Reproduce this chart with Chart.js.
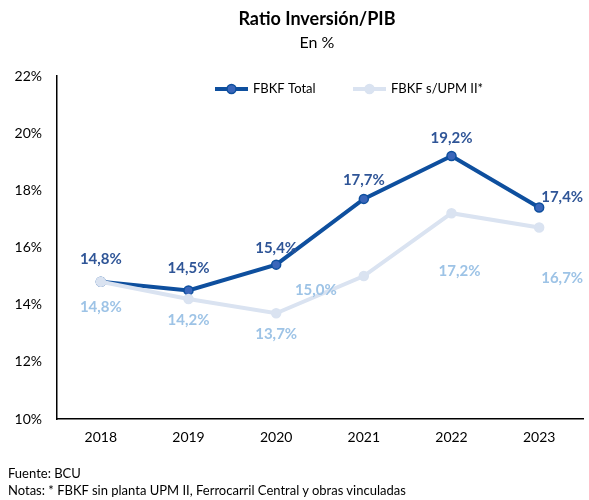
<!DOCTYPE html>
<html><head><meta charset="utf-8">
<script src="https://cdn.jsdelivr.net/npm/chart.js@4"></script>
<style>
body{margin:0;background:#fff;font-family:Lato,"Liberation Sans",sans-serif;}
#wrap{position:relative;width:589px;height:500px;}
canvas{position:absolute;left:0;top:0;}
.t{position:absolute;left:117px;width:400px;text-align:center;color:#000;}
.f{position:absolute;left:8px;font-size:13px;color:#000;}
</style></head>
<body><div id="wrap">
<canvas id="c" width="589" height="500"></canvas>
<div class="t" style="top:7px;font-weight:bold;font-size:18px;">Ratio Inversión/PIB</div>
<div class="t" style="top:32px;font-size:16px;">En %</div>
<div class="f" style="top:465px;">Fuente: BCU</div>
<div class="f" style="top:482px;">Notas: * FBKF sin planta UPM II, Ferrocarril Central y obras vinculadas</div>
</div>
<script>
const categories = ["2018","2019","2020","2021","2022","2023"];
const fbkfTotal = [14.8,14.5,15.4,17.7,19.2,17.4];
const fbkfSinUPM = [14.8,14.2,13.7,15.0,17.2,16.7];
const seriesNames = ["FBKF Total","FBKF s/UPM II*"];
const yTicks = [10,12,14,16,18,20,22];

const DARK="#0E4F9E", DARKPT="#3A66BA", DARKLBL="#2F5597";
const LIGHT="#DAE3F1", LIGHTLBL="#9DC3E6";
const FONT="Lato, 'Liberation Sans', sans-serif";

const labelOffsets = {
  0: [[0,-23],[0,-22],[0,-16],[0,-19],[0,-18],[23,-10]],
  1: [[0,25],[0,21],[0,21],[-48,14],[8,58],[23,51]]
};

const labelsPlugin = {
  id:'valLabels',
  afterDatasetsDraw(chart){
    const ctx=chart.ctx;
    ctx.save();
    ctx.font="bold 15px "+FONT;
    ctx.textAlign="center";ctx.textBaseline="middle";
    chart.data.datasets.forEach((ds,di)=>{
      const meta=chart.getDatasetMeta(di);
      ctx.fillStyle = di===0?DARKLBL:LIGHTLBL;
      meta.data.forEach((pt,i)=>{
        const o=labelOffsets[di][i];
        ctx.fillText(ds.data[i].toFixed(1).replace('.',',')+'%', pt.x+o[0], pt.y+o[1]);
      });
    });
    ctx.restore();
  }
};

const legendPlugin = {
  id:'customLegend',
  afterDraw(chart){
    const ctx=chart.ctx;
    ctx.save();
    const y=89;
    const items=[{x:215,line:DARK,pt:DARKPT,ptb:DARK,name:seriesNames[0]},{x:353,line:LIGHT,pt:LIGHT,ptb:LIGHT,name:seriesNames[1]}];
    items.forEach(it=>{
      ctx.strokeStyle=it.line;ctx.lineWidth=4;
      ctx.beginPath();ctx.moveTo(it.x,y);ctx.lineTo(it.x+33,y);ctx.stroke();
      ctx.fillStyle=it.pt;ctx.strokeStyle=it.ptb;ctx.lineWidth=1.5;
      ctx.beginPath();ctx.arc(it.x+16.5,y,4.5,0,Math.PI*2);ctx.fill();ctx.stroke();
      ctx.fillStyle="#000";ctx.font="13px "+FONT;ctx.textAlign="left";ctx.textBaseline="middle";
      ctx.fillText(it.name,it.x+38,y);
    });
    ctx.restore();
  }
};

new Chart(document.getElementById('c'),{
  type:'line',
  data:{labels:categories,datasets:[
    {label:seriesNames[0],data:fbkfTotal,borderColor:DARK,borderWidth:4,pointRadius:4.5,pointBackgroundColor:DARKPT,pointBorderColor:DARK,pointBorderWidth:1.5,order:1,tension:0},
    {label:seriesNames[1],data:fbkfSinUPM,borderColor:LIGHT,borderWidth:4,pointRadius:4.5,pointBackgroundColor:LIGHT,pointBorderColor:LIGHT,pointBorderWidth:1.5,order:0,tension:0}
  ]},
  options:{
    responsive:false,animation:false,
    layout:{padding:{left:0,right:5,top:76,bottom:41}},
    plugins:{legend:{display:false},tooltip:{enabled:false},title:{display:false}},
    scales:{
      x:{offset:true,grid:{display:false,drawTicks:false},border:{display:true,color:"#000",width:1.5},
         ticks:{padding:10,color:"#000",font:{size:14,family:FONT}},
         afterFit(s){s.height=40;}},
      y:{min:10,max:22,grid:{display:false,drawTicks:false},border:{display:true,color:"#000",width:1.5},
         afterBuildTicks(s){s.ticks=yTicks.map(v=>({value:v}));},
         ticks:{padding:15,color:"#000",font:{size:14,family:FONT},callback:v=>v+'%'},
         afterFit(s){s.width=57;}}
    }
  },
  plugins:[labelsPlugin,legendPlugin]
});
</script>
</body></html>
